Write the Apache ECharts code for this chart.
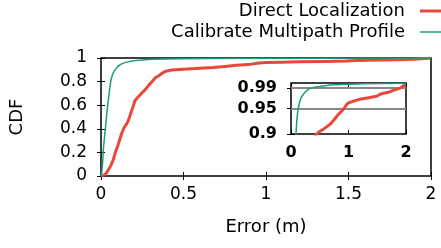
<!DOCTYPE html>
<html><head><meta charset="utf-8">
<script src="https://cdn.jsdelivr.net/npm/echarts@6/dist/echarts.min.js"></script>
<style>html,body{margin:0;padding:0;background:#fff}#c{width:441px;height:248px}</style>
</head><body><div id="c"></div>
<script>
const seriesNames = ['Direct Localization', 'Calibrate Multipath Profile'];
const directData = [[0,0],[0.015,0.005],[0.03,0.02],[0.044,0.05],[0.06,0.09],[0.075,0.14],[0.085,0.19],[0.1,0.25],[0.112,0.3],[0.125,0.36],[0.14,0.41],[0.155,0.44],[0.166,0.47],[0.18,0.53],[0.195,0.59],[0.206,0.64],[0.225,0.67],[0.245,0.7],[0.267,0.73],[0.29,0.77],[0.31,0.8],[0.327,0.83],[0.35,0.85],[0.37,0.87],[0.388,0.885],[0.428,0.898],[0.5,0.905],[0.57,0.91],[0.68,0.919],[0.75,0.928],[0.82,0.938],[0.91,0.948],[0.96,0.957],[1.0,0.961],[1.1,0.965],[1.2,0.968],[1.35,0.971],[1.49,0.974],[1.55,0.978],[1.61,0.98],[1.7,0.982],[1.79,0.986],[1.9,0.99],[1.96,0.995],[2.0,0.997]];
const calibData = [[0,0],[0.005,0.03],[0.01,0.12],[0.014,0.22],[0.02,0.31],[0.028,0.42],[0.035,0.53],[0.04,0.59],[0.05,0.71],[0.06,0.81],[0.07,0.86],[0.08,0.89],[0.087,0.90],[0.1,0.925],[0.115,0.942],[0.128,0.952],[0.15,0.963],[0.18,0.972],[0.215,0.978],[0.27,0.985],[0.32,0.989],[0.39,0.991],[0.5,0.993],[0.68,0.996],[0.9,0.997],[1.26,0.9986],[1.6,0.999],[2,0.9995]];
const mainXTicks = {min: 0, max: 2, interval: 0.5};
const mainYTicks = {min: 0, max: 1, interval: 0.2};
const insetXTicks = {min: 0, max: 2, interval: 1};
const insetYRange = {min: 0.9, max: 1.0};
const insetYLabels = [0.9, 0.95, 0.99];
const insetGridLines = [0.95, 0.99];

const FONT = 'DejaVu Sans';
const RED = '#e8473a', GREEN = '#1a9e7e';
const chart = echarts.init(document.getElementById('c'), null, {renderer: 'canvas'});
const tick = {show: true, inside: true, length: 4, lineStyle: {color: '#000', width: 1}};
const lbl = {color: '#000', fontSize: 17, fontFamily: FONT};
const nameLbl = {color: '#000', fontSize: 18, fontFamily: FONT};
const insetLbl = {color: '#000', fontSize: 16, fontFamily: FONT, fontWeight: 'bold'};
const mirror = (pos, grid, extra) => Object.assign({
  type: 'value', gridIndex: grid, position: pos,
  axisLine: {show: false}, axisTick: tick, axisLabel: {show: false}, splitLine: {show: false}
}, extra);
const legendBase = {
  orient: 'vertical', right: 0, align: 'right', padding: 0, icon: 'rect', itemWidth: 21,
  textStyle: {color: '#000', fontSize: 18, fontFamily: FONT, padding: [0, 10, 0, 0]}
};

chart.setOption({
  animation: false,
  backgroundColor: '#fff',
  legend: [
    Object.assign({}, legendBase, {data: [seriesNames[0]], top: 2, itemHeight: 3}),
    Object.assign({}, legendBase, {data: [seriesNames[1]], top: 23, itemHeight: 1.5})
  ],
  grid: [
    {left: 101, top: 58, width: 330, height: 118, show: true, borderColor: '#000', borderWidth: 1.5, backgroundColor: 'transparent'},
    {left: 291, top: 83, width: 115, height: 51, show: true, borderColor: '#000', borderWidth: 1.5, backgroundColor: '#fff', z: 10}
  ],
  xAxis: [
    Object.assign(mirror('bottom', 0, mainXTicks), {
      name: 'Error (m)', nameLocation: 'middle', nameGap: 42, nameTextStyle: nameLbl,
      axisLabel: Object.assign({margin: 10}, lbl)
    }),
    mirror('top', 0, mainXTicks),
    Object.assign(mirror('bottom', 1, insetXTicks), {
      axisLabel: Object.assign({margin: 11}, insetLbl), z: 11
    }),
    Object.assign(mirror('top', 1, insetXTicks), {z: 11})
  ],
  yAxis: [
    Object.assign(mirror('left', 0, mainYTicks), {
      name: 'CDF', nameLocation: 'middle', nameGap: 75, nameRotate: 90, nameTextStyle: nameLbl,
      axisLabel: Object.assign({margin: 14}, lbl)
    }),
    mirror('right', 0, mainYTicks),
    Object.assign(mirror('left', 1, insetYRange), {
      axisTick: Object.assign({customValues: insetYLabels}, tick),
      axisLabel: Object.assign({margin: 14, customValues: insetYLabels}, insetLbl), z: 11
    }),
    Object.assign(mirror('right', 1, insetYRange), {
      axisTick: Object.assign({customValues: insetYLabels}, tick), z: 11
    })
  ],
  series: [
    {name: seriesNames[0], type: 'line', xAxisIndex: 0, yAxisIndex: 0, data: directData, symbol: 'none', lineStyle: {color: RED, width: 3}, itemStyle: {color: RED}, z: 3},
    {name: seriesNames[1], type: 'line', xAxisIndex: 0, yAxisIndex: 0, data: calibData, symbol: 'none', lineStyle: {color: GREEN, width: 1.5}, itemStyle: {color: GREEN}, z: 4},
    {name: seriesNames[0], type: 'line', xAxisIndex: 2, yAxisIndex: 2, data: directData, symbol: 'none', clip: true, lineStyle: {color: RED, width: 3}, itemStyle: {color: RED}, z: 13},
    {name: seriesNames[1], type: 'line', xAxisIndex: 2, yAxisIndex: 2, data: calibData, symbol: 'none', clip: true, lineStyle: {color: GREEN, width: 1.5}, itemStyle: {color: GREEN}, z: 14,
      markLine: {silent: true, symbol: 'none', label: {show: false}, lineStyle: {color: '#888', width: 2, type: 'solid'},
        data: insetGridLines.map(v => ({yAxis: v})), z: 12}
    }
  ]
});
</script></body></html>
